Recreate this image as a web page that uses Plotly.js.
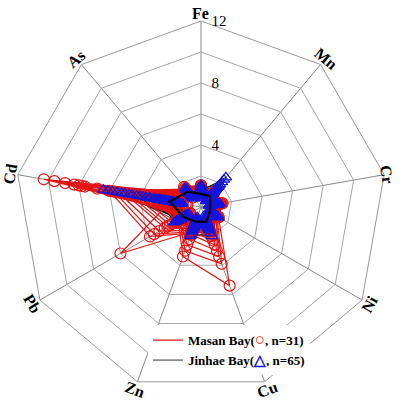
<!DOCTYPE html>
<html>
<head>
<meta charset="utf-8">
<script src="https://cdn.plot.ly/plotly-3.0.1.min.js"></script>
<style>
html, body { margin: 0; padding: 0; background: #fff; }
#chart { width: 400px; height: 405px; }
</style>
</head>
<body>
<div id="chart"></div>
<script>
var elements = ['Fe', 'Mn', 'Cr', 'Ni', 'Cu', 'Zn', 'Pb', 'Cd', 'As'];
var radialTicks = [2, 4, 6, 8, 10, 12];
var radialTickText = ['', '4', '', '8', '', '12'];

// Masan Bay stations (n=31), values per element in the order above
var masan = [
	[1.1, 0.9, 1.1, 1.0, 1.4, 1.3, 1.0, 10.3, 1.1],
	[1.0, 0.9, 1.0, 0.9, 1.3, 1.2, 0.9, 9.6, 1.0],
	[1.2, 1.0, 1.2, 1.1, 1.5, 1.4, 1.1, 8.9, 1.2],
	[1.1, 0.9, 1.1, 1.0, 1.4, 1.3, 1.0, 8.3, 1.1],
	[1.0, 0.8, 1.0, 0.9, 1.3, 1.2, 0.9, 8.0, 1.0],
	[1.2, 1.0, 1.2, 1.1, 1.6, 1.5, 1.2, 7.8, 1.2],
	[1.1, 0.9, 1.1, 1.0, 1.4, 1.3, 1.1, 7.6, 1.1],
	[1.2, 1.0, 1.2, 1.1, 1.7, 1.6, 1.3, 6.8, 1.3],
	[1.2, 1.0, 1.1, 1.1, 1.5, 1.7, 6.0, 2.0, 1.3],
	[1.3, 1.1, 1.2, 1.2, 1.7, 1.8, 3.8, 6.0, 1.5],
	[1.2, 1.0, 1.2, 1.1, 1.6, 1.7, 3.5, 5.7, 1.4],
	[1.3, 1.1, 1.3, 1.2, 1.5, 1.6, 3.1, 5.4, 1.5],
	[1.2, 1.0, 1.2, 1.1, 1.6, 1.5, 2.7, 5.0, 1.4],
	[1.1, 1.0, 1.1, 1.0, 1.5, 1.5, 2.5, 4.7, 1.3],
	[1.4, 1.2, 1.3, 1.3, 5.4, 3.4, 1.7, 3.0, 1.6],
	[1.3, 1.1, 1.2, 1.2, 3.9, 3.0, 1.6, 2.8, 1.5],
	[1.2, 1.0, 1.2, 1.1, 3.4, 2.6, 1.6, 2.6, 1.4],
	[1.3, 1.1, 1.3, 1.2, 3.0, 2.2, 1.5, 2.4, 1.4],
	[1.1, 1.0, 1.1, 1.0, 2.6, 1.9, 1.5, 2.2, 1.3],
	[1.0, 0.9, 1.1, 1.0, 2.3, 1.7, 1.4, 2.0, 1.2],
	[1.1, 0.9, 1.1, 1.0, 2.0, 1.6, 2.3, 4.4, 1.2],
	[1.3, 1.1, 1.3, 1.2, 1.6, 1.5, 1.8, 3.2, 1.4],
	[1.0, 0.9, 1.0, 0.9, 1.5, 1.4, 2.1, 4.0, 1.1],
	[1.2, 1.0, 1.2, 1.1, 1.5, 1.3, 1.6, 2.5, 1.3],
	[1.0, 0.8, 1.0, 0.9, 1.3, 1.2, 1.5, 2.0, 1.1],
	[0.9, 0.8, 0.9, 0.9, 1.2, 1.1, 1.4, 1.8, 1.0],
	[1.2, 1.0, 1.1, 1.0, 1.3, 1.2, 1.3, 1.6, 1.2],
	[1.0, 0.9, 1.0, 0.9, 1.1, 1.0, 1.1, 1.4, 1.0],
	[1.3, 1.1, 1.4, 1.3, 1.4, 1.3, 1.0, 1.2, 1.3],
	[0.8, 0.7, 0.8, 0.7, 0.9, 0.9, 0.8, 1.0, 0.8],
	[1.4, 1.3, 1.4, 1.3, 1.2, 1.1, 0.8, 0.9, 1.7]
];

// Jinhae Bay stations (n=65)
var jinhae = [
	[1.0, 2.5, 0.9, 0.8, 1.1, 1.2, 1.6, 2.4, 1.2],
	[1.1, 2.3, 1.0, 0.9, 1.2, 1.3, 1.8, 2.8, 1.3],
	[0.9, 2.1, 0.8, 0.7, 1.0, 1.1, 1.5, 2.2, 1.1],
	[1.2, 1.9, 1.1, 1.0, 1.3, 1.4, 1.9, 3.1, 1.4],
	[1.0, 1.7, 0.9, 0.9, 1.2, 1.3, 1.7, 2.6, 1.2],
	[0.8, 1.5, 0.7, 0.7, 0.9, 1.0, 1.3, 1.9, 1.0],
	[1.1, 1.1, 1.0, 1.1, 1.3, 1.4, 1.4, 6.4, 1.2],
	[1.2, 1.0, 1.1, 1.2, 1.4, 1.5, 1.5, 6.1, 1.3],
	[1.0, 1.0, 0.9, 1.0, 1.2, 1.3, 1.3, 5.8, 1.1],
	[1.1, 0.9, 1.0, 1.1, 1.3, 1.4, 1.6, 5.5, 1.2],
	[1.3, 1.1, 1.2, 1.3, 1.5, 1.6, 1.8, 5.2, 1.4],
	[0.9, 0.9, 0.9, 0.9, 1.1, 1.2, 1.2, 5.0, 1.0],
	[1.0, 1.0, 1.0, 1.0, 1.2, 1.3, 1.4, 4.7, 1.1],
	[1.1, 0.8, 0.9, 1.0, 1.3, 1.4, 1.5, 4.5, 1.2],
	[1.2, 1.0, 1.1, 1.2, 1.5, 1.6, 1.7, 4.2, 1.3],
	[0.9, 0.9, 0.8, 0.9, 1.1, 1.2, 1.3, 4.0, 1.0],
	[1.0, 0.8, 0.9, 1.0, 1.2, 1.3, 1.4, 3.8, 1.1],
	[1.1, 1.0, 1.0, 1.1, 1.4, 1.5, 1.6, 3.6, 1.2],
	[0.8, 0.7, 0.8, 0.8, 1.0, 1.1, 1.2, 3.4, 1.0],
	[1.0, 0.9, 0.9, 0.9, 1.2, 1.3, 1.5, 3.3, 1.1],
	[0.9, 0.8, 0.8, 0.8, 1.0, 1.1, 1.3, 3.0, 1.0],
	[1.0, 1.3, 0.9, 0.8, 1.1, 1.2, 1.5, 2.9, 1.2],
	[0.9, 1.2, 0.8, 0.8, 1.0, 1.1, 1.4, 2.7, 1.1],
	[1.1, 1.1, 1.0, 0.9, 1.2, 1.3, 1.6, 2.5, 1.3],
	[0.8, 1.0, 0.7, 0.7, 0.9, 1.0, 1.2, 2.3, 1.0],
	[1.2, 1.2, 1.1, 1.0, 1.3, 1.4, 1.7, 2.1, 1.4],
	[0.7, 0.8, 0.6, 0.6, 0.8, 0.9, 1.1, 1.9, 0.9],
	[1.0, 0.9, 0.9, 1.0, 1.2, 1.2, 1.5, 1.8, 1.2],
	[1.3, 1.0, 1.2, 1.1, 1.4, 1.5, 1.8, 2.0, 1.5],
	[0.9, 0.7, 0.8, 0.9, 1.0, 1.0, 1.3, 1.7, 1.0],
	[1.1, 0.8, 1.0, 1.0, 1.1, 1.2, 1.4, 1.6, 1.2],
	[0.8, 0.6, 0.7, 0.8, 0.9, 0.9, 1.1, 1.5, 0.9],
	[1.0, 0.9, 0.9, 0.9, 1.0, 1.1, 1.3, 1.4, 1.1],
	[1.2, 1.1, 1.1, 1.1, 1.3, 1.3, 1.6, 1.9, 1.3],
	[0.7, 0.6, 0.6, 0.7, 0.8, 0.8, 1.0, 1.3, 0.8],
	[1.0, 1.0, 1.0, 1.2, 2.0, 1.9, 1.7, 2.2, 1.2],
	[1.1, 0.9, 1.0, 1.1, 1.8, 2.0, 1.9, 2.4, 1.3],
	[0.9, 0.8, 0.9, 1.0, 1.6, 1.7, 1.6, 2.0, 1.1],
	[1.0, 1.0, 1.1, 1.3, 1.5, 1.5, 1.5, 1.8, 1.2],
	[1.2, 0.9, 1.2, 1.2, 1.4, 1.4, 1.4, 1.7, 1.4],
	[0.8, 0.7, 0.7, 0.7, 0.9, 1.0, 1.2, 1.6, 0.9],
	[1.4, 1.2, 1.0, 0.9, 1.1, 1.2, 1.5, 2.1, 1.6],
	[1.3, 1.3, 0.9, 0.8, 1.0, 1.1, 1.4, 2.3, 1.5],
	[1.1, 1.4, 0.8, 0.8, 0.9, 1.0, 1.3, 2.0, 1.3],
	[0.9, 1.1, 0.7, 0.7, 0.8, 0.9, 1.2, 1.8, 1.1],
	[1.0, 1.0, 0.8, 0.9, 1.0, 1.1, 1.6, 2.6, 1.2],
	[1.1, 0.9, 0.9, 1.0, 1.1, 1.2, 1.8, 2.8, 1.3],
	[0.9, 0.8, 0.8, 0.9, 1.0, 1.0, 1.5, 2.4, 1.1],
	[1.2, 1.0, 1.0, 1.0, 1.2, 1.3, 2.0, 2.7, 1.4],
	[0.8, 0.7, 0.7, 0.8, 0.9, 0.9, 1.3, 2.2, 1.0],
	[1.0, 0.8, 0.9, 0.9, 1.0, 1.1, 1.4, 1.9, 1.1],
	[0.6, 0.5, 0.5, 0.6, 0.6, 0.7, 0.9, 1.2, 0.7],
	[0.7, 0.6, 0.6, 0.6, 0.7, 0.8, 1.0, 1.4, 0.8],
	[0.8, 0.7, 0.7, 0.7, 0.8, 0.9, 1.1, 1.6, 0.9],
	[1.0, 1.1, 1.1, 1.0, 1.2, 1.2, 1.3, 1.7, 1.1],
	[1.1, 1.2, 1.2, 1.1, 1.3, 1.3, 1.5, 1.9, 1.2],
	[0.9, 1.0, 1.0, 0.9, 1.1, 1.1, 1.2, 1.5, 1.0],
	[1.3, 1.1, 1.0, 1.0, 1.2, 1.4, 1.7, 2.3, 1.5],
	[1.2, 1.0, 0.9, 0.9, 1.1, 1.3, 1.6, 2.1, 1.4],
	[1.0, 0.9, 0.8, 0.8, 1.0, 1.2, 1.4, 1.8, 1.2],
	[0.9, 1.3, 1.1, 1.2, 1.4, 1.3, 1.2, 1.5, 1.0],
	[1.1, 1.5, 1.2, 1.3, 1.5, 1.4, 1.4, 1.7, 1.1],
	[1.0, 1.6, 1.0, 1.1, 1.3, 1.2, 1.3, 1.6, 1.2],
	[0.8, 1.3, 0.9, 1.0, 1.1, 1.0, 1.1, 1.4, 0.9],
	[1.0, 1.8, 1.1, 1.2, 1.2, 1.1, 1.3, 1.8, 1.1]
];

// the heavy black outline in the middle
var jinhaeBold = [0.85, 0.9, 0.6, 0.65, 1.0, 1.0, 1.3, 2.05, 1.3];

var RED = 'rgb(228,20,20)';
var BLUE = 'rgb(20,20,220)';
var serif = 'Liberation Serif, Times New Roman, serif';

function closed(arr) {
	return arr.concat([arr[0]]);
}

function lineTrace(vals, color, width, name, show, rank) {
	return {
		type: 'scatterpolar',
		r: closed(vals),
		theta: closed(elements),
		mode: 'lines',
		line: {color: color, width: width},
		name: name,
		showlegend: show,
		legendrank: rank,
		hoverinfo: 'skip'
	};
}

function markerTrace(vals, color, symbol, size) {
	return {
		type: 'scatterpolar',
		r: vals,
		theta: elements,
		mode: 'markers',
		marker: {symbol: symbol, size: size, color: color, line: {color: color, width: 1.2}},
		showlegend: false,
		hoverinfo: 'skip'
	};
}

var masanName = 'Masan Bay(<span style="color:' + RED + ';font-size:17px">○</span>, n=31)';
var jinhaeName = 'Jinhae Bay(<span style="color:' + BLUE + ';font-size:15px">△</span>, n=65)';

// draw order: all lines, then circles, then triangles, heavy outline last
var traces = [];
jinhae.forEach(function (row, i) {
	traces.push(lineTrace(row, 'black', 0.8, jinhaeName, i == 0, 2));
});
masan.forEach(function (row, i) {
	traces.push(lineTrace(row, RED, 1.2, masanName, i == 0, 1));
});
masan.forEach(function (row) {
	traces.push(markerTrace(row, RED, 'circle-open', 11));
});
jinhae.forEach(function (row) {
	traces.push(markerTrace(row, BLUE, 'triangle-up-open', 10));
});
traces.push(lineTrace(jinhaeBold, 'black', 2.2, '', false, 3));

// element names round the outside, turned along the rim
var W = 400, H = 405;
var cx = 201, cy = 207, rLab = 194;
var annotations = elements.map(function (el, i) {
	var a = (90 - 40 * i) * Math.PI / 180;
	var rot = 40 * i;
	while (rot > 90) rot -= 180;
	var rr = el == 'Cr' ? rLab - 5 : rLab;
	return {
		text: el,
		xref: 'paper', yref: 'paper',
		x: (cx + rr * Math.cos(a)) / W,
		y: 1 - (cy - rr * Math.sin(a)) / H,
		xanchor: 'center', yanchor: 'middle',
		textangle: rot,
		showarrow: false,
		font: {family: serif, size: 16, color: 'black', weight: 'bold'}
	};
});

var layout = {
	width: W,
	height: H,
	margin: {l: 0, r: 0, t: 0, b: 0},
	paper_bgcolor: 'white',
	showlegend: true,
	hovermode: false,
	polar: {
		domain: {x: [15 / W, 387 / W], y: [12 / H, 384 / H]},
		bgcolor: 'white',
		gridshape: 'linear',
		angularaxis: {
			direction: 'clockwise',
			rotation: 90,
			showticklabels: false,
			ticks: '',
			showline: true,
			linecolor: '#9a9a9a',
			linewidth: 1,
			gridcolor: '#8a8a8a',
			gridwidth: 1
		},
		radialaxis: {
			range: [0, 12],
			angle: 90,
			tickvals: radialTicks,
			ticktext: radialTickText,
			ticks: 'outside',
			ticklen: 7,
			tickcolor: 'rgba(0,0,0,0)',
			tickangle: 90,
			showline: false,
			gridcolor: '#a8a8a8',
			gridwidth: 1,
			tickfont: {family: serif, size: 15, color: 'black'}
		}
	},
	legend: {
		x: 0.37, y: 0.197,
		xanchor: 'left', yanchor: 'top',
		bgcolor: 'white',
		borderwidth: 0,
		tracegroupgap: 0,
		itemwidth: 30,
		font: {family: serif, size: 13, color: 'black', weight: 'bold'}
	},
	annotations: annotations
};

Plotly.newPlot('chart', traces, layout, {displayModeBar: false, staticPlot: true});
</script>
</body>
</html>
